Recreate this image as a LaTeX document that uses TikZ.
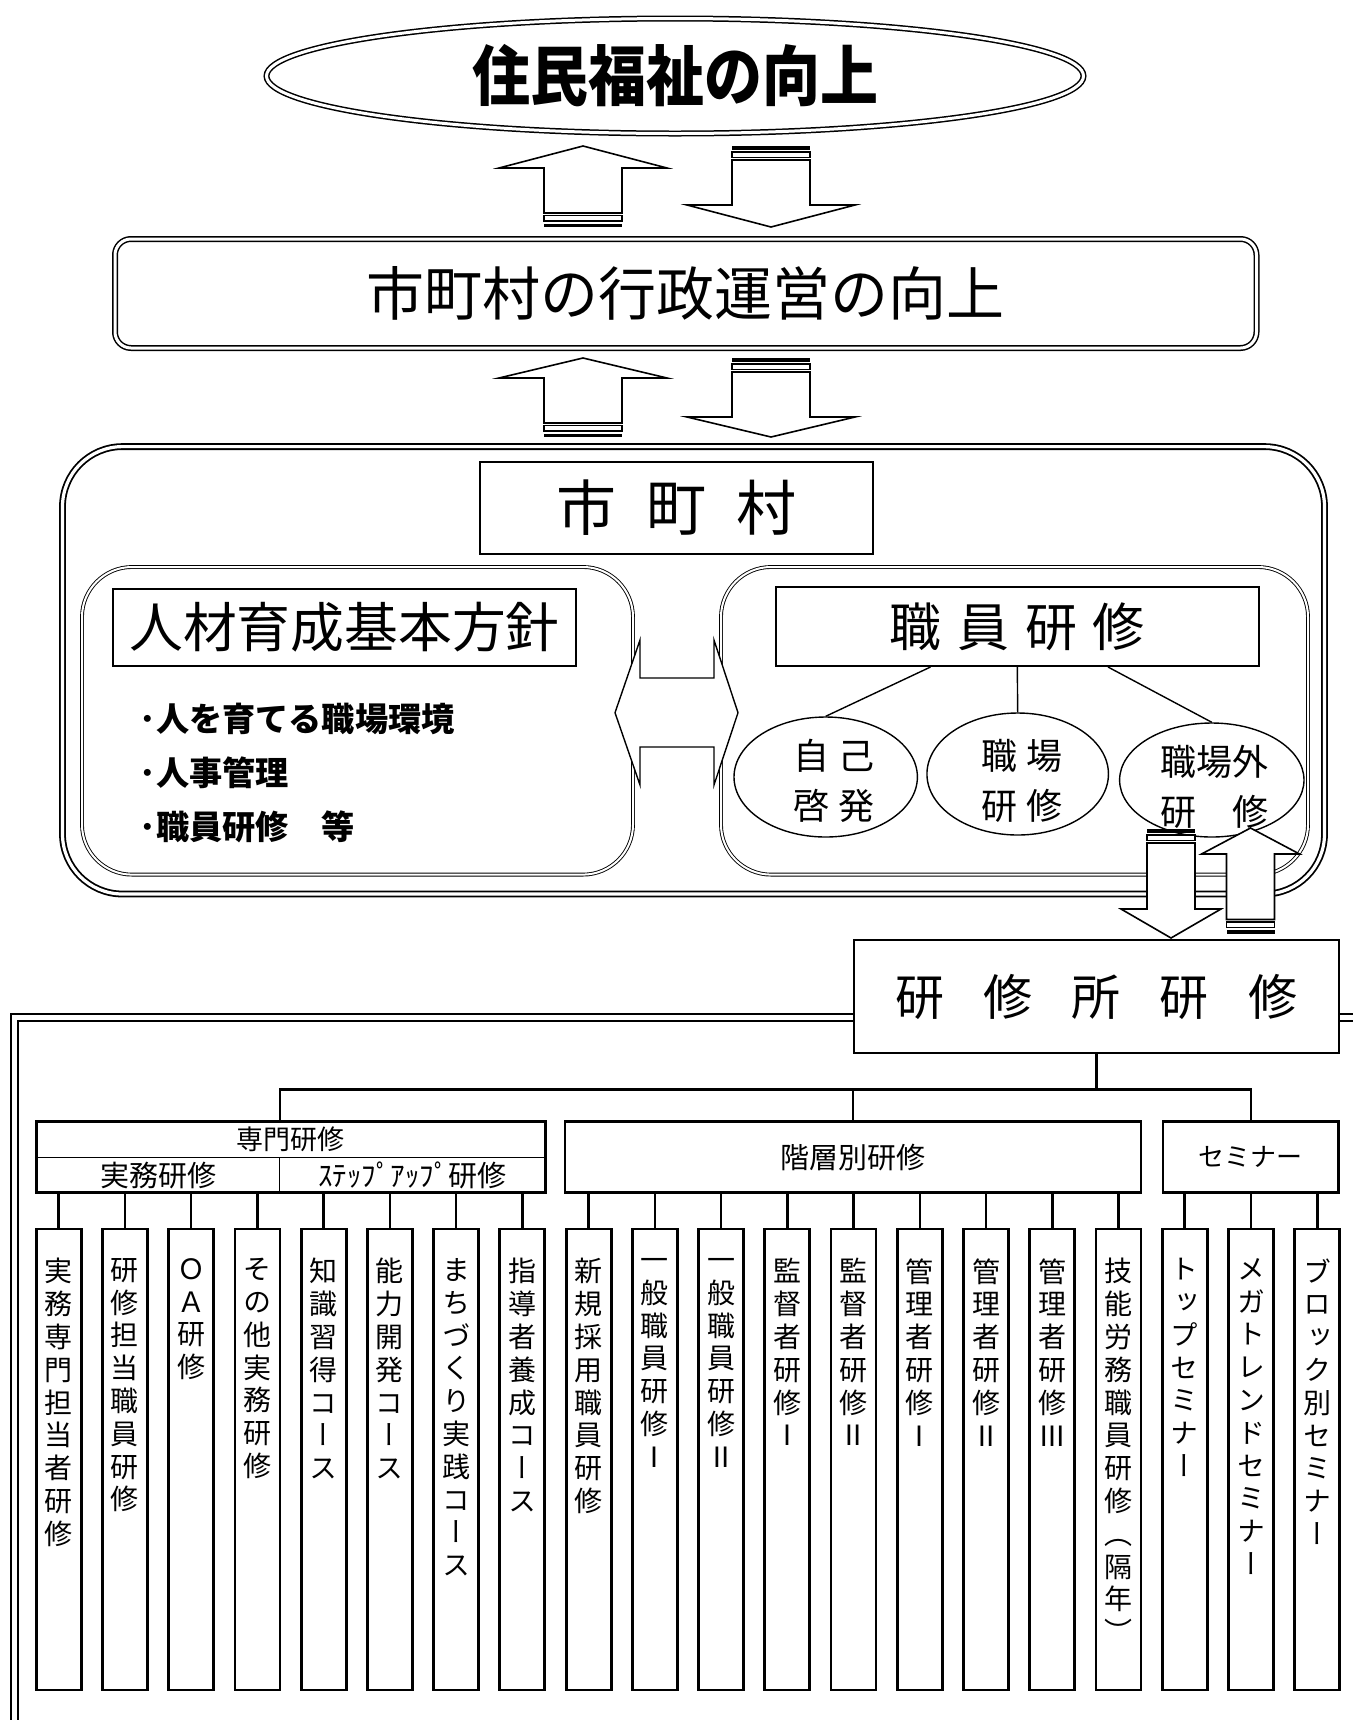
\documentclass[tikz,border=0pt]{standalone}
\usepackage{fontspec}
\setmainfont{Noto Sans CJK JP}
\newfontfamily\vfont{Noto Sans CJK JP}[RawFeature=+vert]
\usetikzlibrary{shapes.geometric}
\def\vtloop#1{\ifx\relax#1\else\hbox to 1em{\hss#1\hss}\expandafter\vtloop\fi}
\newcommand\vstack[1]{\vtop{\baselineskip=16.4pt\lineskiplimit=-30pt\lineskip=0pt\vtloop#1\relax}}
\newcommand\blkup[6]{%
  \draw[blk] (#1,#2) -- (#1+#5,#3) -- (#1+#6,#3) -- (#1+#6,#4) -- (#1-#6,#4) -- (#1-#6,#3) -- (#1-#5,#3) -- cycle;
  \draw[stp] (#1-#6,#4+2.5) rectangle (#1+#6,#4+8);
  \fill (#1-#6,#4+10.5) rectangle (#1+#6,#4+14);}
\newcommand\blkdown[7]{%
  \fill (#1-#7,#2) rectangle (#1+#7,#2+3.5);
  \draw[stp] (#1-#7,#2+6) rectangle (#1+#7,#2+11.5);
  \draw[blk] (#1-#7,#3) -- (#1+#7,#3) -- (#1+#7,#4) -- (#1+#6,#4) -- (#1,#5) -- (#1-#6,#4) -- (#1-#7,#4) -- cycle;}
\begin{document}
\begin{tikzpicture}[x=0.5pt,y=-0.5pt,
  blk/.style={draw,fill=white,line width=0.8pt,line join=miter},
  stp/.style={draw,fill=white,line width=0.6pt},
  dbl/.style={draw,double,line width=0.75pt,double distance=1.5pt},
  thindbl/.style={draw,double,line width=0.45pt,double distance=1pt},
  plain/.style={draw,line width=1pt,fill=white,inner sep=0},
  ell/.style={ellipse,draw,line width=0.7pt,fill=white,inner sep=0},
  ln/.style={line width=0.7pt},
  grp/.style={draw,line width=1.4pt,fill=white,inner sep=0,minimum height=35.7pt},
  lbl/.style={inner sep=0,font=\fontsize{14.5pt}{16pt}\selectfont},
  tree/.style={line width=1.3pt},
  vbox/.style={draw,line width=1.4pt,minimum width=22.5pt,minimum height=230.5pt,inner sep=0},
  vtxt/.style={inner sep=0,font=\vfont\fontsize{14pt}{16.4pt}\selectfont},
  bul/.style={anchor=west,inner sep=0,font=\bfseries\fontsize{16.6pt}{16.6pt}\selectfont}]
\useasboundingbox (0,0) rectangle (1353,1720);
\clip (0,0) rectangle (1353,1720);
\fill[white] (0,0) rectangle (1353,1720);

% top goal
\node[ellipse,dbl,fill=white,inner sep=0,minimum width=408.5pt,minimum height=57.5pt,
  font=\bfseries\fontsize{29pt}{29pt}\selectfont] (goal) at (675,76) {\scalebox{1}[1.13]{住民福祉の向上}};

% administration
\node[dbl,rounded corners=8pt,fill=white,inner sep=0,minimum width=570.75pt,minimum height=54.5pt,
  font=\fontsize{29pt}{29pt}\selectfont] (gov) at (685.75,293.5) {市町村の行政運営の向上};

% municipality frame
\node[draw,double,line width=0.9pt,double distance=1.6pt,rounded corners=30pt,inner sep=0,
  minimum width=631pt,minimum height=223.7pt] (mun) at (693.5,670.3) {};
\node[plain,minimum width=196.5pt,minimum height=46pt,font=\fontsize{30pt}{30pt}\selectfont]
  (munt) at (676,508) {市\hspace{0.5em}町\hspace{0.5em}村};

\node[thindbl,rounded corners=25pt,inner sep=0,minimum width=275.5pt,minimum height=153.8pt] (lb) at (357.5,720.8) {};
\node[thindbl,rounded corners=25pt,inner sep=0,minimum width=293.5pt,minimum height=153.8pt] (rb) at (1014.5,720.8) {};

\node[plain,minimum width=231.5pt,minimum height=38.5pt,font=\fontsize{26.9pt}{26.9pt}\selectfont]
  (hr) at (344.5,627.5) {人材育成基本方針};
\node[bul] (b1) at (139,719) {･人を育てる職場環境};
\node[bul] (b2) at (139,773) {･人事管理};
\node[bul] (b3) at (139,827) {･職員研修　等};

\node[plain,minimum width=241.3pt,minimum height=39.5pt,font=\fontsize{26pt}{26pt}\selectfont]
  (sk) at (1017.3,626.5) {職\hspace{0.3em}員\hspace{0.3em}研\hspace{0.3em}修};

\node[ell,minimum width=91.7pt,minimum height=60pt] (e1) at (825.7,777) {};
\node[ell,minimum width=90.75pt,minimum height=61pt] (e2) at (1017.7,774) {};
\node[ell,minimum width=92.2pt,minimum height=57pt] (e3) at (1211.8,780) {};
\begin{scope}[every node/.style={inner sep=0,align=center,font=\fontsize{18pt}{25pt}\selectfont}]
\node (e1t) at (833.5,780.7) {自\hspace{0.25em}己\\啓\hspace{0.25em}発};
\node (e2t) at (1022,780.7) {職\hspace{0.25em}場\\研\hspace{0.25em}修};
\node (e3t) at (1214,786.5) {職場外\\研　修};
\end{scope}
\draw[ln] ([xshift=-43.4pt]sk.south) -- (e1.north);
\draw[ln] (sk.south) -- (e2.north);
\draw[ln] ([xshift=45.35pt]sk.south) -- (e3.north);

% double headed arrow
\draw[blk,line width=0.7pt] (615,712.7) -- (640,640) -- (640,678) -- (714,678) -- (714,640) -- (738,712.7)
  -- (714,785) -- (714,747) -- (640,747) -- (640,785) -- cycle;

% lower frame
\draw[line width=1.2pt] (11,1800) -- (11,1014) -- (1400,1014);
\draw[line width=0.7pt] (18,1800) -- (18,1021) -- (1400,1021);

\node[plain,minimum width=242.5pt,minimum height=56.5pt,font=\fontsize{24.5pt}{24.5pt}\selectfont]
  (kb) at (1096.2,996.5) {研\hspace{0.8em}修\hspace{0.8em}所\hspace{0.8em}研\hspace{0.8em}修};

% arrows
\blkup{583}{146}{168}{213}{84}{39}
\blkdown{771}{146}{160}{205}{227}{84}{39}
\blkup{583}{358}{378}{423}{84}{39}
\blkdown{771}{358}{372}{417}{437}{84}{39}
\blkdown{1171}{829}{843}{909}{938}{50}{24}
\blkup{1250.5}{828}{854}{919.5}{49}{24}

% groups
\node[grp,minimum width=254.6pt] (g1) at (290.8,1157.1) {};
\node[grp,minimum width=288pt] (g2) at (853,1157.1) {};
\node[grp,minimum width=87.85pt] (g3) at (1250.9,1157.1) {};
\coordinate (gdiv) at (279.8,1157.1);
\draw[line width=0.6pt] (g1.west) -- (g1.east);
\draw[line width=0.6pt] (gdiv) -- (gdiv |- g1.south);
\node[lbl,font=\fontsize{13.5pt}{15pt}\selectfont] (g1a) at (290.8,1139.3) {専門研修};
\node[lbl] (g1b) at (158,1175.2) {実務研修};
\node[lbl] (g1c) at (412.6,1175.2) {ｽﾃｯﾌﾟｱｯﾌﾟ研修};
\node[lbl] (g2a) at (g2) {階層別研修};
\node[lbl,font=\fontsize{13pt}{15pt}\selectfont] (g3a) at (g3) {セミナー};

% tree
\coordinate (tj) at (1096.2,1089.6);
\coordinate (g1top) at (279.8,1121.4);
\draw[tree] (kb.south) -- (tj);
\draw[tree] (g1top) -- (g1top |- tj) -- (tj -| g3.north) -- (g3.north);
\draw[tree] (g2.north) -- (g2.north |- tj);

\foreach \t [count=\i from 0] in {実務専門担当者研修,研修担当職員研修,ＯＡ研修,その他実務研修,知識習得コース,能力開発コース,まちづくり実践コース,指導者養成コース,新規採用職員研修,^^^^4e00般職員研修Ⅰ,^^^^4e00般職員研修Ⅱ,監督者研修Ⅰ,監督者研修Ⅱ,管理者研修Ⅰ,管理者研修Ⅱ,管理者研修Ⅲ,技能労務職員研修（隔年）,トップセミナー,メガトレンドセミナー,ブロック別セミナー}{
  \pgfmathsetmacro\cx{58.7+66.24*\i}
  \node[vbox] (v\i) at (\cx,1459.5) {};
  \node[vtxt,anchor=north] (vt\i) at (\cx,1258) {\expandafter\vstack\expandafter{\t}};
  \draw[tree] (v\i.north) -- (v\i.north |- g1.south);
}
\end{tikzpicture}
\end{document}
